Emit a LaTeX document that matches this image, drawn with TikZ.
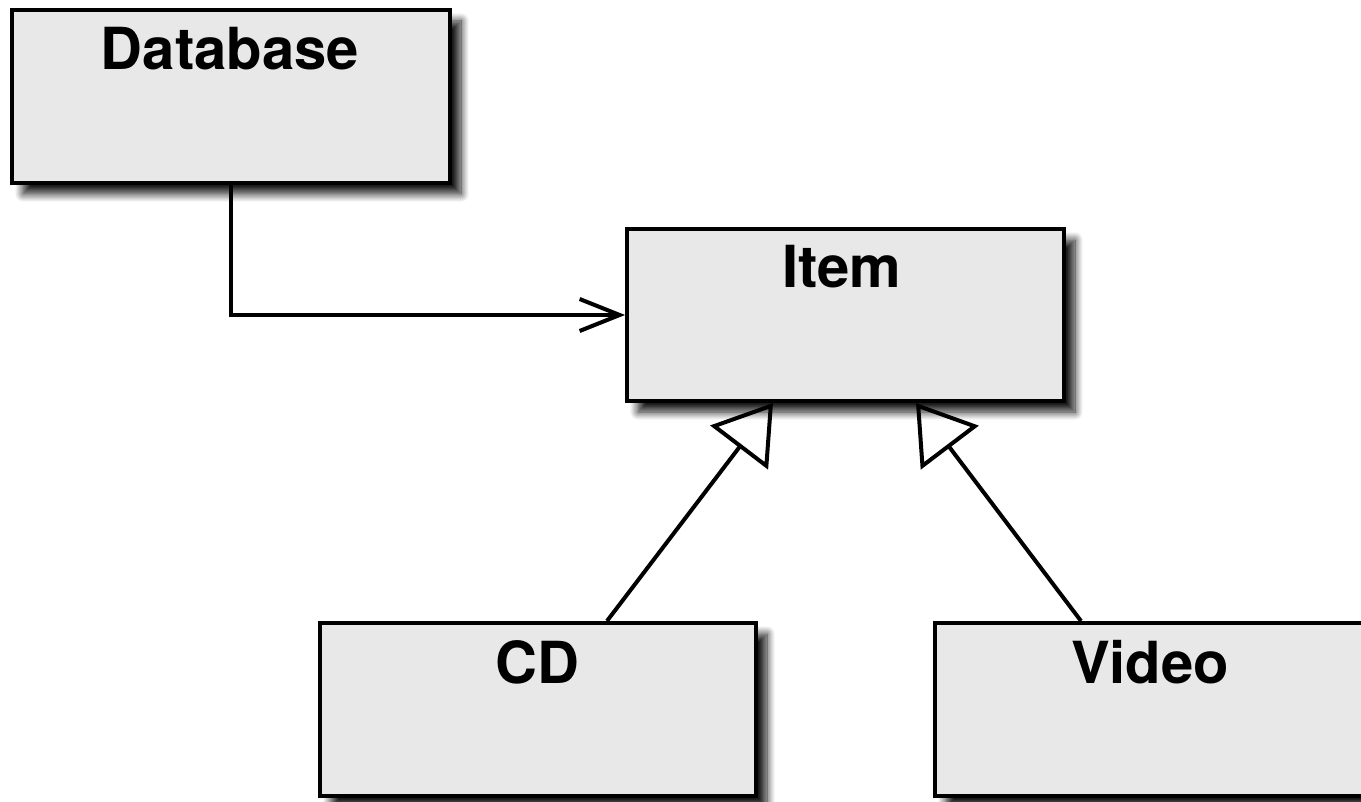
\documentclass[tikz,border=0pt]{standalone}
\usepackage{fontspec}
\setmainfont{TeX Gyre Heros}
\usetikzlibrary{arrows.meta,shadows.blur,calc}
\definecolor{boxfill}{HTML}{E8E8E8}
\tikzset{
  classbox/.style={draw=black, line width=4pt, fill=boxfill, rectangle,
    inner sep=0pt, minimum width=438pt, minimum height=173pt,
    blur shadow={shadow xshift=11pt, shadow yshift=-11pt,
      shadow blur radius=8pt, shadow blur steps=10, shadow opacity=90}},
  classname/.style={anchor=base, inner sep=0pt,
    font=\fontsize{58}{60}\selectfont\bfseries},
  assoc/.style={line width=4pt, -{Straight Barb[length=40pt,width=32pt,line width=4pt]}},
  inherit/.style={line width=4pt, -{Triangle[open,length=56pt,width=72pt,line width=4pt]}}
}
\begin{document}
\begin{tikzpicture}[x=1pt,y=-1pt]
\useasboundingbox (0,0) rectangle (1361,802);
\begin{scope}
\clip (0,0) rectangle (1361,802);
% class boxes
\node[classbox] (db) at (231,96.5) {};
\node[classbox, minimum width=437pt, minimum height=172pt] (item) at (845.5,315) {};
\node[classbox, minimum width=436pt] (cd) at (538,709.5) {};
\node[classbox] (video) at (1154,709.5) {};
% class names
\node[classname] (dbname) at ($(db.north)+(-1,62)$) {Database};
\node[classname] (itemname) at ($(item.north)+(-4,61)$) {Item};
\node[classname] (cdname) at ($(cd.north)+(-1,62)$) {CD};
\node[classname] (videoname) at ($(video.north)+(-4,62)$) {Video};
% association
\draw[assoc] (db.south) |- (item.west);
% generalisations
\coordinate (cdtop) at ($(cd.north west)+(289,0)$);
\coordinate (videotop) at ($(video.north west)+(148,0)$);
\coordinate (itemcd) at ($(item.south west)+(148,0)$);
\coordinate (itemvideo) at ($(item.south west)+(291,0)$);
\draw[inherit] (cdtop) -- (itemcd);
\draw[inherit] (videotop) -- (itemvideo);
\end{scope}
\end{tikzpicture}
\end{document}
